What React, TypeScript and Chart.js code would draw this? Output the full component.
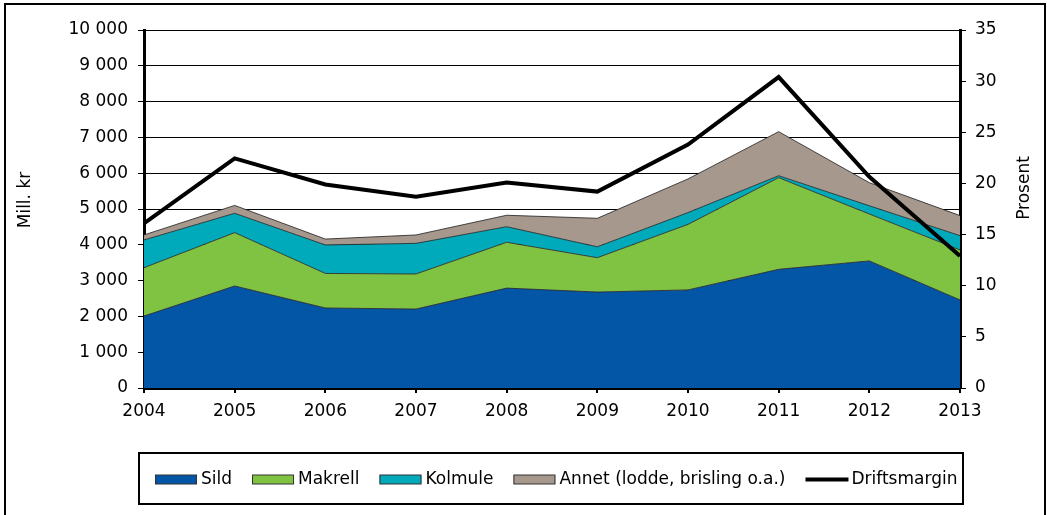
import React, { useEffect, useRef } from "react";
import { Chart, registerables } from "chart.js";

Chart.register(...registerables);

const years = ["2004", "2005", "2006", "2007", "2008", "2009", "2010", "2011", "2012", "2013"];
const sild = [2010, 2850, 2235, 2205, 2790, 2680, 2740, 3315, 3550, 2460];
const makrell = [1350, 1490, 965, 980, 1280, 960, 1830, 2560, 1310, 1395];
const kolmule = [775, 540, 795, 855, 435, 305, 330, 55, 230, 400];
const annet = [140, 220, 165, 235, 320, 795, 940, 1230, 645, 560];
const driftsmargin = [16.1, 22.45, 19.9, 18.7, 20.1, 19.2, 23.8, 30.4, 20.65, 12.9];

const FONT = "'DejaVu Sans', Verdana, sans-serif";
const FS = 17;

const framePlugin = {
  id: "frame",
  beforeDraw(chart: any) {
    const ctx = chart.ctx;
    ctx.save();
    ctx.fillStyle = "#ffffff";
    ctx.fillRect(0, 0, chart.width, chart.height);
    ctx.strokeStyle = "#000000";
    ctx.lineWidth = 2;
    ctx.beginPath();
    ctx.moveTo(5, chart.height + 5);
    ctx.lineTo(5, 4);
    ctx.lineTo(1045, 4);
    ctx.lineTo(1045, chart.height + 5);
    ctx.stroke();
    ctx.restore();
  },
  afterDraw(chart: any) {
    const ctx = chart.ctx;
    const area = chart.chartArea;
    ctx.save();
    ctx.fillStyle = "#000";
    ctx.font = `${FS}px ${FONT}`;
    ctx.textAlign = "center";
    ctx.textBaseline = "middle";
    // left title
    ctx.save();
    ctx.translate(26, (area.top + area.bottom) / 2 - 9);
    ctx.rotate(-Math.PI / 2);
    ctx.fillText("Mill. kr", 0, 0);
    ctx.restore();
    // right title
    ctx.save();
    ctx.translate(1025, (area.top + area.bottom) / 2 - 21);
    ctx.rotate(-Math.PI / 2);
    ctx.fillText("Prosent", 0, 0);
    ctx.restore();

    // legend
    const bx = 139, by = 453, bw = 824, bh = 51;
    ctx.lineWidth = 2;
    ctx.strokeStyle = "#000";
    ctx.strokeRect(bx, by, bw, bh);
    const cy = by + bh / 2 + 1;
    let x = 155;
    ctx.textAlign = "left";
    chart.data.datasets.forEach((ds: any) => {
      if (ds.yAxisID === "y1") {
        ctx.strokeStyle = "#000";
        ctx.lineWidth = 4;
        ctx.beginPath();
        ctx.moveTo(x, cy);
        ctx.lineTo(x + 43, cy);
        ctx.stroke();
      } else {
        ctx.fillStyle = ds.backgroundColor;
        ctx.fillRect(x, cy - 4.5, 42, 9);
        ctx.strokeStyle = "#333";
        ctx.lineWidth = 1;
        ctx.strokeRect(x + 0.5, cy - 4.5, 41, 9);
      }
      x += 46;
      ctx.fillStyle = "#000";
      ctx.fillText(ds.label, x, cy);
      x += ctx.measureText(ds.label).width + 20;
    });
    ctx.restore();
  },
};

export default function App() {
  const ref = useRef<HTMLCanvasElement>(null);
  useEffect(() => {
    document.body.style.margin = "0";
    const area = (label: string, data: number[], color: string, fill: any) => ({
      type: "line" as const,
      label,
      data,
      backgroundColor: color,
      borderColor: "rgba(40,40,40,0.85)",
      borderWidth: 1,
      pointRadius: 0,
      fill,
      tension: 0,
      yAxisID: "y",
      stack: "s",
      order: 1,
    });
    const chart = new Chart(ref.current!, {
      type: "line",
      data: {
        labels: years,
        datasets: [
          area("Sild", sild, "#0256A5", "origin"),
          area("Makrell", makrell, "#80C342", "-1"),
          area("Kolmule", kolmule, "#00AABA", "-1"),
          area("Annet (lodde, brisling o.a.)", annet, "#A6988C", "-1"),
          {
            type: "line",
            label: "Driftsmargin",
            data: driftsmargin,
            borderColor: "#000",
            backgroundColor: "#000",
            borderWidth: 4,
            pointRadius: 0,
            fill: false,
            tension: 0,
            yAxisID: "y1",
            order: -1,
          } as any,
        ],
      },
      options: {
        responsive: false,
        animation: false,
        layout: { padding: { left: 0, right: 0, top: 30, bottom: 94 } },
        plugins: { legend: { display: false }, tooltip: { enabled: false } },
        elements: { line: { borderJoinStyle: "miter" } },
        scales: {
          x: {
            type: "category",
            offset: false,
            grid: { drawOnChartArea: false, drawTicks: true, tickLength: 5, color: "#000", lineWidth: 2 },
            border: { display: true, color: "#000", width: 3 },
            ticks: { color: "#000", font: { family: FONT, size: FS }, padding: 8, maxRotation: 0, autoSkip: false },
            afterFit: (s: any) => { s.height = 33; },
          },
          y: {
            type: "linear",
            position: "left",
            stacked: true,
            min: 0,
            max: 10000,
            grid: { color: "#000", lineWidth: 1, drawTicks: true, tickLength: 6 },
            border: { display: true, color: "#000", width: 3 },
            ticks: {
              stepSize: 1000,
              color: "#000",
              padding: 10,
              font: { family: FONT, size: FS },
              callback: (v: any) => {
                const n = Number(v);
                return n >= 1000 ? Math.floor(n / 1000) + " " + String(n % 1000).padStart(3, "0") : String(n);
              },
            },
            afterFit: (s: any) => { s.width = 144; },
          },
          y1: {
            type: "linear",
            position: "right",
            min: 0,
            max: 35,
            grid: { drawOnChartArea: false, drawTicks: true, tickLength: 6, color: "#000", lineWidth: 1 },
            border: { display: true, color: "#000", width: 3 },
            ticks: { stepSize: 5, color: "#000", padding: 9, font: { family: FONT, size: FS } },
            afterFit: (s: any) => { s.width = 87; },
          },
        },
      },
      plugins: [framePlugin],
    });
    return () => chart.destroy();
  }, []);
  return (
    <div style={{ position: "absolute", left: 0, top: 0, width: 1047, height: 515, overflow: "hidden" }}>
      <canvas ref={ref} width={1047} height={515} style={{ width: 1047, height: 515, display: "block" }} />
    </div>
  );
}
